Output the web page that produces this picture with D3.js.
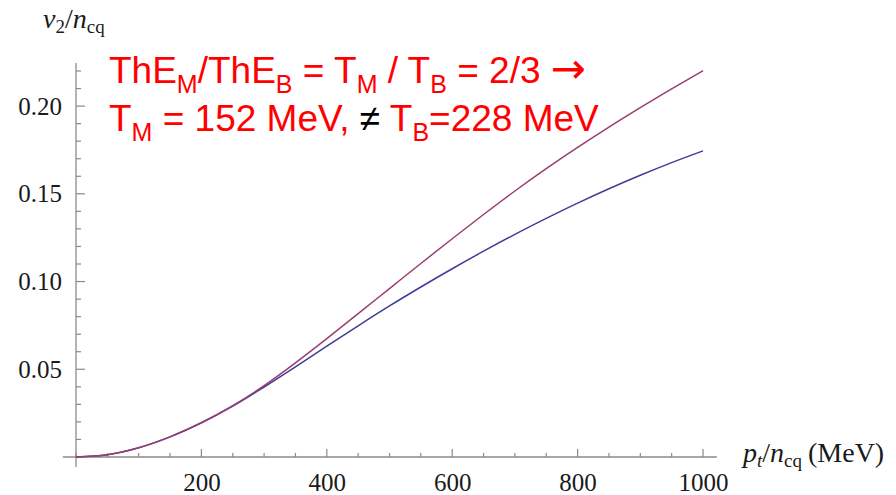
<!DOCTYPE html>
<html>
<head>
<meta charset="utf-8">
<script src="https://cdn.jsdelivr.net/npm/d3@7"></script>
<style>
  html, body { margin: 0; padding: 0; background: #fff; }
  svg { display: block; }
</style>
</head>
<body>
<svg id="chart" width="896" height="495"></svg>
<script>
// ---- data ----
const pt = [0, 50, 100, 150, 200, 250, 300, 350, 400, 450, 500, 550, 600, 650, 700, 750, 800, 850, 900, 950, 1000];
const v2Meson = [0, 0.0013, 0.0053, 0.0115, 0.0195, 0.0292, 0.0407, 0.0537, 0.0675, 0.0817, 0.0960, 0.1103, 0.1244, 0.1382, 0.1516, 0.1643, 0.1764, 0.1880, 0.1991, 0.2098, 0.2202];
const v2Baryon = [0, 0.0013, 0.0053, 0.0115, 0.0195, 0.0290, 0.0399, 0.0514, 0.0632, 0.0748, 0.0861, 0.0969, 0.1073, 0.1173, 0.1269, 0.1360, 0.1447, 0.1529, 0.1606, 0.1678, 0.1745];
const xMajorTicks = [200, 400, 600, 800, 1000];
const xMinorTicks = [0, 50, 100, 150, 250, 300, 350, 450, 500, 550, 650, 700, 750, 850, 900, 950];
const yMajorTicks = [0.05, 0.10, 0.15, 0.20];
const yMinorTicks = [0.01, 0.02, 0.03, 0.04, 0.06, 0.07, 0.08, 0.09, 0.11, 0.12, 0.13, 0.14, 0.16, 0.17, 0.18, 0.19, 0.21, 0.22];
const xAxisExtent = [-21, 1022];
const yAxisExtent = [-0.0057, 0.2245];

const svg = d3.select("#chart");
const x = d3.scaleLinear().domain([0, 1000]).range([76, 703]);
const y = d3.scaleLinear().domain([0, 0.22]).range([457, 71]);

const axisColor = "#8a8a8a";
const serif = "'Liberation Serif', 'Times New Roman', serif";

// axis lines
svg.append("line")
  .attr("x1", x(xAxisExtent[0])).attr("x2", x(xAxisExtent[1]))
  .attr("y1", y(0)).attr("y2", y(0))
  .attr("stroke", axisColor).attr("stroke-width", 1.3);
svg.append("line")
  .attr("x1", x(0)).attr("x2", x(0))
  .attr("y1", y(yAxisExtent[0])).attr("y2", y(yAxisExtent[1]))
  .attr("stroke", axisColor).attr("stroke-width", 1.3);

// tick marks (pointing into the plot)
function xTicks(vals, len) {
  svg.append("g").selectAll("line").data(vals).join("line")
    .attr("x1", d => x(d)).attr("x2", d => x(d))
    .attr("y1", y(0)).attr("y2", y(0) - len)
    .attr("stroke", axisColor).attr("stroke-width", 1.2);
}
function yTicks(vals, len) {
  svg.append("g").selectAll("line").data(vals).join("line")
    .attr("x1", x(0)).attr("x2", x(0) + len)
    .attr("y1", d => y(d)).attr("y2", d => y(d))
    .attr("stroke", axisColor).attr("stroke-width", 1.2);
}
xTicks(xMinorTicks, 4);
xTicks(xMajorTicks, 8);
yTicks(yMinorTicks, 5);
yTicks(yMajorTicks, 9);

// tick labels through d3 axes
const gx = svg.append("g").attr("transform", `translate(0,${y(0)})`)
  .call(d3.axisBottom(x).tickValues(xMajorTicks).tickSize(0).tickPadding(16).tickFormat(d3.format("d")));
const gy = svg.append("g").attr("transform", `translate(${x(0)},0)`)
  .call(d3.axisLeft(y).tickValues(yMajorTicks).tickSize(0).tickPadding(14).tickFormat(d3.format(".2f")));
[gx, gy].forEach(g => {
  g.select(".domain").remove();
  g.selectAll(".tick line").remove();
  g.selectAll(".tick text").attr("fill", "#1a1a1a").style("font-family", serif).style("font-size", "25px");
});

// curves
const line = d3.line().x(d => x(d[0])).y(d => y(d[1])).curve(d3.curveMonotoneX);
svg.append("path").datum(pt.map((p, i) => [p, v2Baryon[i]]))
  .attr("d", line).attr("fill", "none").attr("stroke", "#3f3d99").attr("stroke-width", 1.5);
svg.append("path").datum(pt.map((p, i) => [p, v2Meson[i]]))
  .attr("d", line).attr("fill", "none").attr("stroke", "#993d71").attr("stroke-width", 1.5);

// axis labels
const yl = svg.append("text").attr("x", 43).attr("y", 28)
  .style("font-family", serif).style("font-size", "28px").attr("fill", "#1a1a1a");
yl.append("tspan").style("font-style", "italic").text("v");
yl.append("tspan").attr("dy", 5).style("font-size", "19px").text("2");
yl.append("tspan").attr("dy", -5).text("/");
yl.append("tspan").style("font-style", "italic").text("n");
yl.append("tspan").attr("dy", 5).style("font-size", "19px").text("cq");

const xl = svg.append("text").attr("x", 743).attr("y", 462)
  .style("font-family", serif).style("font-size", "28px").attr("fill", "#1a1a1a");
xl.append("tspan").style("font-style", "italic").text("p");
xl.append("tspan").attr("dy", 5).style("font-size", "19px").style("font-style", "italic").text("t");
xl.append("tspan").attr("dy", -5).text("/");
xl.append("tspan").style("font-style", "italic").text("n");
xl.append("tspan").attr("dy", 5).style("font-size", "19px").text("cq");
xl.append("tspan").attr("dy", -5).attr("dx", 6).text("(MeV)");

// annotation
const sans = "'Liberation Sans', Arial, sans-serif";
const red = "#ff0000";
function annot(yPos, parts) {
  const t = svg.append("text").attr("x", 109).attr("y", yPos)
    .style("font-family", sans).style("font-size", "37px").attr("fill", red);
  parts.forEach(p => {
    const s = t.append("tspan").text(p.t);
    if (p.sub) s.attr("dy", 10).style("font-size", "25px");
    if (p.up) s.attr("dy", -10);
    if (p.color) s.attr("fill", p.color);
    if (p.arrow) s.style("font-family", "'DejaVu Sans', sans-serif").style("font-size", "42px");
  });
}
annot(83, [
  {t: "ThE"}, {t: "M", sub: true}, {t: "/ThE", up: true}, {t: "B", sub: true},
  {t: " = T", up: true}, {t: "M", sub: true}, {t: " / T", up: true}, {t: "B", sub: true},
  {t: " = 2/3 ", up: true}, {t: "\u2192", arrow: true}
]);
annot(131, [
  {t: "T"}, {t: "M", sub: true}, {t: " = 152 MeV, ", up: true},
  {t: "\u2260", color: "#000"}, {t: " T"}, {t: "B", sub: true}, {t: "=228 MeV", up: true}
]);
</script>
</body>
</html>
